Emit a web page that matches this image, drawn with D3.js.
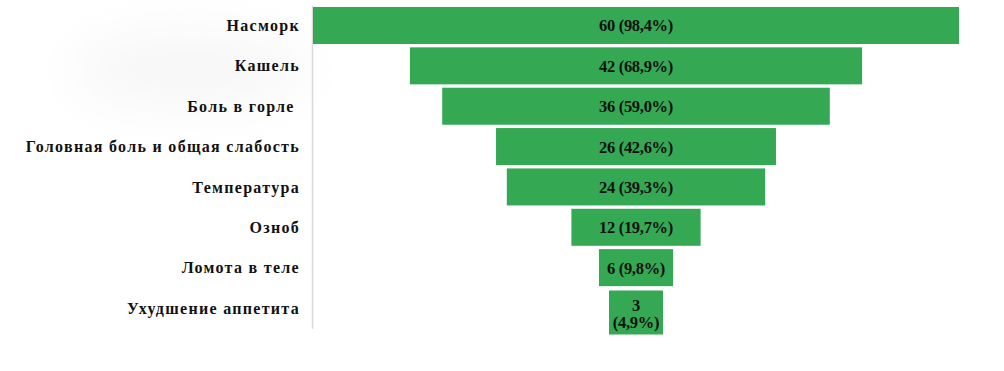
<!DOCTYPE html>
<html>
<head>
<meta charset="utf-8">
<script src="https://cdn.jsdelivr.net/npm/d3@7"></script>
<style>
  body { margin: 0; background: #fff; }
  svg text { font-family: "Liberation Serif", "Times New Roman", serif; font-weight: bold; fill: #111; }
  .tick text { font-size: 16px; letter-spacing: 1.3px; white-space: pre; }
  .val { font-size: 16.5px; letter-spacing: -0.3px; }
</style>
</head>
<body>
<script>
var w = 1004;
var h = 371;

// data
var categories = ["Насморк", "Кашель", "Боль в горле ", "Головная боль и общая слабость",
    "Температура", "Озноб", "Ломота в теле", "Ухудшение аппетита"];
var counts = [60, 42, 36, 26, 24, 12, 6, 3];
var percents = ["98,4%", "68,9%", "59,0%", "42,6%", "39,3%", "19,7%", "9,8%", "4,9%"];

var axisX = 312;
var centerX = 636;
var minBar = 54;

var svg = d3.select("body")
    .append("svg")
    .attr("width", w)
    .attr("height", h);

// faint shadow in the background on the left
var defs = svg.append("defs");
defs.append("filter")
    .attr("id", "blur")
    .attr("x", "-50%").attr("y", "-50%")
    .attr("width", "200%").attr("height", "200%")
    .append("feGaussianBlur")
    .attr("stdDeviation", 25);
svg.append("ellipse")
    .attr("cx", 190).attr("cy", 70)
    .attr("rx", 120).attr("ry", 40)
    .attr("fill", "#f7f7f7")
    .attr("filter", "url(#blur)");

var yScale = d3.scaleBand()
    .domain(categories)
    .range([5.3, 328.2])
    .paddingInner(0.083)
    .paddingOuter(0.042);

var xScale = d3.scaleLinear()
    .domain([0, d3.max(counts)])
    .range([0, 646]);

// category axis
var yAxis = d3.axisLeft(yScale).tickSize(0).tickPadding(12);
var yAxisGroup = svg.append("g")
    .attr("transform", "translate(" + axisX + ",0)")
    .call(yAxis);
yAxisGroup.attr("font-family", null).attr("font-size", null);
yAxisGroup.select(".domain").attr("stroke", "#d9d9d9").attr("stroke-width", 1.5);
yAxisGroup.selectAll("text").attr("fill", null).attr("dy", "0.35em");

var rows = svg.selectAll("g.row")
    .data(counts)
    .enter()
    .append("g")
    .attr("class", "row");

rows.each(function (d, i) {
    var g = d3.select(this);
    var y0 = yScale(categories[i]);
    var bh = yScale.bandwidth();

    var rect = g.append("rect")
        .attr("y", y0)
        .attr("fill", "#34a853");

    var label = g.append("text")
        .attr("class", "val")
        .attr("x", centerX)
        .attr("text-anchor", "middle")
        .text(d + " (" + percents[i] + ")");

    var tw = label.node().getComputedTextLength();
    var bw = xScale(d);
    if (bw >= minBar) {
        // bar widens so its label fits
        bw = Math.max(bw, tw + 16);
        label.attr("y", y0 + bh / 2 + 6);
    } else {
        // narrowest bars: wrap the label onto two lines, bar grows
        bw = minBar;
        y0 = y0 + 1;
        bh = bh + 7;
        label.text(null);
        label.append("tspan").attr("x", centerX).attr("y", y0 + bh / 2 - 2).text(d);
        label.append("tspan").attr("x", centerX).attr("y", y0 + bh / 2 + 15).text("(" + percents[i] + ")");
    }
    rect.attr("x", centerX - bw / 2)
        .attr("y", y0)
        .attr("width", bw)
        .attr("height", bh);
});
</script>
</body>
</html>
